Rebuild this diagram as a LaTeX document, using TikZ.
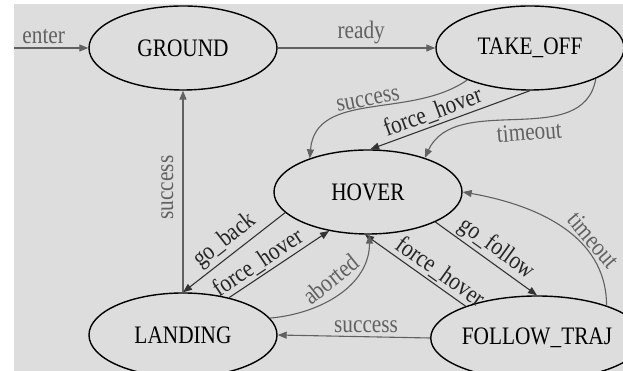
\documentclass[tikz,border=0pt]{standalone}
\usepackage{fontspec}
\setmainfont{Liberation Serif}
\usetikzlibrary{shapes.geometric,arrows.meta}
\definecolor{bg}{RGB}{221,221,221}
\newcommand{\tstr}[1]{\scalebox{1}[1.18]{#1}}
\begin{document}
\begin{tikzpicture}[x=1pt,y=1pt,
  state/.style={draw=black, line width=1.4pt, ellipse, minimum width=188pt, minimum height=84pt, inner sep=0pt, font=\fontsize{21.3}{25}\selectfont},
  tr/.style={draw=black!62, line width=1.1pt, -{Triangle[length=9pt,width=7pt]}},
  trd/.style={tr, draw=black!80},
  lbl/.style={font=\fontsize{21.3}{25}\selectfont, text=black!62, inner sep=3.5pt},
  lbld/.style={lbl, text=black!85}]
\useasboundingbox (0,0) rectangle (623,371);
\fill[white] (0,0) rectangle (623,371);
\fill[bg] (14,0) rectangle (623,367);
\node[state] (ground) at (183,323) {\tstr{GROUND}};
\node[state] (take) at (530,323) {\tstr{TAKE\_OFF}};
\node[state] (hover) at (368,179) {\tstr{HOVER}};
\node[state] (landing) at (183,36) {\tstr{LANDING}};
\node[state] (follow) at (537,33) {\tstr{FOLLOW\_TRAJ}};
\coordinate (start) at (14,323);
% top row
\draw[tr] (start) -- node[lbl, above, pos=0.4] {\tstr{enter}} (ground.west);
\draw[tr] (ground.east) -- node[lbl, above, pos=0.53] {\tstr{ready}} (take.west);
% TAKE_OFF -> HOVER
\draw[tr] (take.207) to[out=215, in=85] node[lbl, above, sloped, pos=0.5, inner sep=2pt] {\tstr{success}} (hover.150);
\draw[trd] (take.270) -- node[lbld, above, sloped, pos=0.58, inner sep=2pt] {\tstr{force\_hover}} (hover.87);
\draw[tr] (take.335) to[out=260, in=65] node[lbl, below, sloped, pos=0.45, inner sep=3.5pt] {\tstr{timeout}} (hover.31);
% HOVER <-> FOLLOW_TRAJ
\draw[tr] (follow.25) to[out=90, in=-10] node[lbl, above, sloped, pos=0.33, inner sep=2pt] {\tstr{timeout}} (hover.east);
\draw[trd] (hover.336) -- node[lbld, above, sloped, pos=0.52, inner sep=2pt] {\tstr{go\_follow}} (follow.90);
\draw[trd] (follow.156) -- node[lbld, above, sloped, pos=0.33, inner sep=2pt] {\tstr{force\_hover}} (hover.266);
% bottom
\draw[tr] (follow.west) -- node[lbl, above, pos=0.42] {\tstr{success}} (landing.east);
\draw[tr] (landing.11) to[out=5, in=270] node[lbl, above, sloped, pos=0.52, inner sep=7pt] {\tstr{aborted}} (hover.272);
\draw[trd] (hover.194) -- node[lbld, above, sloped, pos=0.5, inner sep=3pt] {\tstr{go\_back}} (landing.north);
\draw[trd] (landing.39) -- node[lbld, above, sloped, pos=0.36, inner sep=2pt] {\tstr{force\_hover}} (hover.225);
\draw[tr] (landing.north) -- node[lbl, above, sloped, pos=0.52, inner sep=9pt] {\tstr{success}} (ground.south);
\end{tikzpicture}
\end{document}
